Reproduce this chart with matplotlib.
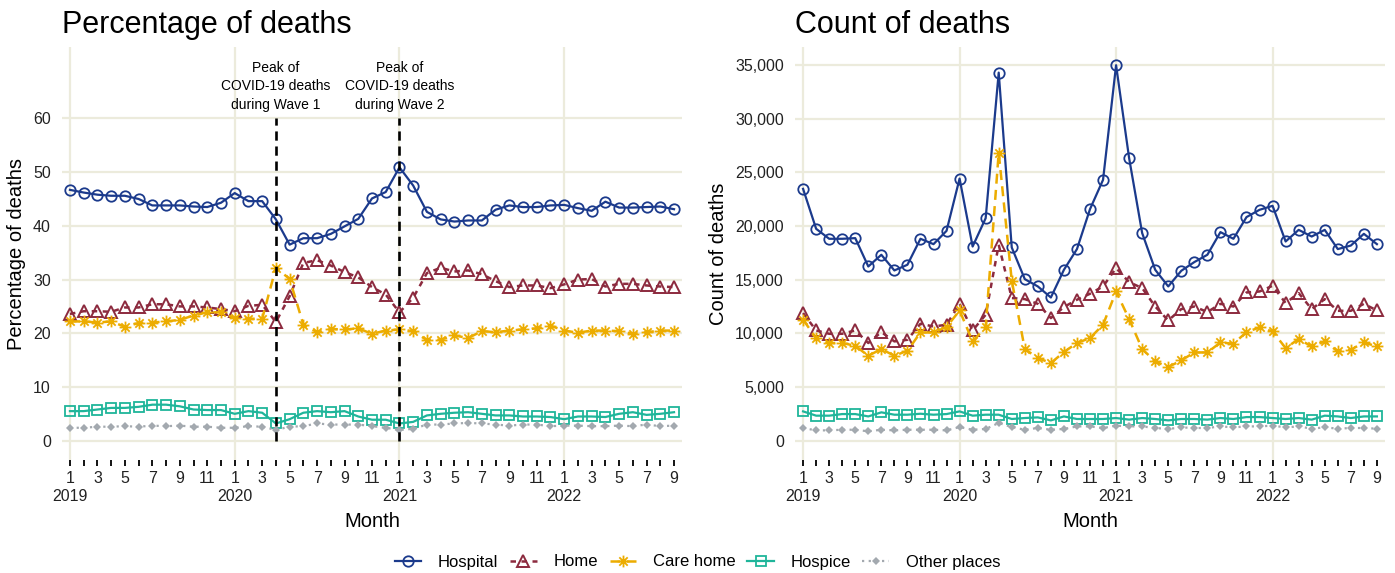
import matplotlib
matplotlib.use("Agg")
import matplotlib.pyplot as plt
import numpy as np
from matplotlib.path import Path
from matplotlib.ticker import FuncFormatter

plt.rcParams['font.family'] = ['Liberation Sans', 'DejaVu Sans']

# ---- data ----
years = [2019, 2020, 2021, 2022]
n_months = 45  # Jan 2019 .. Sep 2022
month_nums = [(i % 12) + 1 for i in range(n_months)]

series_names = ["Hospital", "Home", "Care home", "Hospice", "Other places"]

pct_hospital = [46.7, 46.2, 45.8, 45.6, 45.6, 45.0, 43.8, 43.8, 43.8, 43.6, 43.5, 44.3,
                46.1, 44.6, 44.6, 41.2, 36.5, 37.7, 37.7, 38.5, 39.9, 41.3, 45.1, 46.3,
                50.9, 47.5, 42.6, 41.2, 40.8, 41.0, 41.0, 43.0, 43.8, 43.5, 43.5, 43.8,
                43.9, 43.3, 42.8, 44.5, 43.4, 43.4, 43.5, 43.6, 43.1]
pct_home = [23.6, 24.1, 24.1, 24.0, 24.8, 24.8, 25.4, 25.4, 25.0, 25.0, 24.8, 24.5,
            24.1, 25.1, 25.3, 22.1, 26.9, 33.1, 33.6, 32.6, 31.4, 30.4, 28.6, 27.2,
            23.9, 26.6, 31.2, 32.2, 31.5, 31.7, 31.0, 29.7, 28.6, 28.9, 28.9, 28.4,
            29.1, 30.0, 30.1, 28.7, 29.2, 29.2, 28.9, 28.7, 28.6]
pct_care = [22.2, 22.2, 22.0, 22.2, 21.2, 21.9, 22.0, 22.2, 22.5, 23.3, 23.9, 23.9,
            22.8, 22.7, 22.7, 32.2, 30.1, 21.6, 20.2, 20.8, 20.7, 20.9, 19.9, 20.5,
            20.7, 20.4, 18.7, 18.8, 19.6, 19.1, 20.4, 20.2, 20.5, 20.7, 20.9, 21.4,
            20.5, 20.1, 20.5, 20.5, 20.4, 19.9, 20.2, 20.5, 20.5]
pct_hospice = [5.5, 5.5, 5.8, 6.1, 6.1, 6.3, 6.7, 6.7, 6.4, 5.8, 5.7, 5.7,
               5.0, 5.5, 5.2, 3.2, 4.0, 5.2, 5.5, 5.3, 5.5, 4.5, 3.9, 3.9,
               3.2, 3.5, 4.7, 5.0, 5.2, 5.3, 5.0, 4.7, 4.7, 4.5, 4.5, 4.4,
               4.0, 4.5, 4.5, 4.4, 5.0, 5.3, 4.8, 5.0, 5.3]
pct_other = [2.4, 2.4, 2.6, 2.6, 2.7, 2.6, 2.8, 2.7, 2.8, 2.6, 2.6, 2.4,
             2.4, 2.7, 2.6, 2.0, 2.6, 2.7, 3.2, 3.0, 3.0, 3.0, 2.7, 2.4,
             2.0, 2.2, 3.0, 3.0, 3.2, 3.3, 3.2, 3.0, 2.8, 3.0, 3.0, 2.7,
             2.8, 2.8, 2.7, 2.7, 2.8, 2.7, 3.0, 2.7, 2.8]

cnt_hospital = [23460, 19740, 18810, 18810, 18870, 16230, 17320, 15860, 16390, 18810, 18310, 19550,
                24420, 18090, 20730, 34290, 18000, 15050, 14370, 13340, 15920, 17850, 21570, 24300,
                34980, 26320, 19340, 15920, 14370, 15830, 16640, 17320, 19430, 18810, 20830, 21510,
                21880, 18560, 19640, 19020, 19640, 17850, 18180, 19270, 18310]
cnt_home = [11890, 10270, 9960, 9960, 10270, 9100, 10120, 9250, 9400, 10890, 10640, 10800,
            12750, 10270, 11730, 18250, 13290, 13190, 12750, 11420, 12450, 13130, 13690, 14370,
            16080, 14770, 14220, 12500, 11200, 12260, 12500, 11980, 12750, 12500, 13810, 13900,
            14430, 12820, 13750, 12260, 13190, 12100, 12100, 12750, 12130]
cnt_care = [11270, 9560, 9100, 9100, 8840, 7910, 8540, 7910, 8380, 10080, 10080, 10590,
            12130, 9250, 10590, 26840, 14920, 8540, 7700, 7230, 8260, 9100, 9560, 10800,
            13900, 11330, 8540, 7380, 6860, 7480, 8220, 8220, 9150, 9030, 10120, 10550,
            10180, 8630, 9470, 8780, 9250, 8310, 8470, 9150, 8780]
cnt_hospice = [2730, 2330, 2330, 2480, 2480, 2260, 2640, 2420, 2420, 2510, 2420, 2480,
               2730, 2330, 2420, 2420, 2020, 2110, 2170, 1890, 2260, 2020, 2020, 2020,
               2110, 1960, 2110, 2020, 1890, 2020, 2020, 1960, 2110, 2020, 2200, 2200,
               2110, 2020, 2110, 1960, 2330, 2260, 2110, 2260, 2260]
cnt_other = [1180, 960, 960, 1020, 1020, 870, 1020, 960, 1020, 1020, 1020, 960,
             1270, 1020, 1090, 1650, 1270, 1020, 1180, 1020, 1090, 1330, 1330, 1180,
             1400, 1330, 1330, 1180, 1090, 1240, 1180, 1180, 1330, 1240, 1330, 1330,
             1400, 1240, 1330, 1120, 1240, 1120, 1180, 1180, 1120]

peak_months = [15, 24]  # Apr 2020, Jan 2021
peak_labels = ["Peak of\nCOVID-19 deaths\nduring Wave 1", "Peak of\nCOVID-19 deaths\nduring Wave 2"]

# ---- styles ----
# asterisk marker (ggplot shape 8)
verts, codes = [], []
for ang in [0, 45, 90, 135]:
    a = np.deg2rad(ang)
    dx, dy = np.cos(a), np.sin(a)
    verts += [(-dx, -dy), (dx, dy)]
    codes += [Path.MOVETO, Path.LINETO]
asterisk = Path(verts, codes)

styles = {
    "Hospital": dict(color="#1b3a8c", ls="-", marker="o", ms=7.5, mfc="none", mew=1.3, lw=1.6),
    "Home": dict(color="#8c2a3e", ls=(0, (2.2, 2.2)), marker="^", ms=8, mfc="none", mew=1.4, lw=1.8),
    "Care home": dict(color="#ecac00", ls=(0, (4, 2.5)), marker=asterisk, ms=8.5, mfc="none", mew=1.3, lw=1.8),
    "Hospice": dict(color="#1fb59a", ls="-", marker="s", ms=7.5, mfc="none", mew=1.3, lw=1.6),
    "Other places": dict(color="#a3a9af", ls=(0, (1, 2)), marker="D", ms=4.5, mfc="#a3a9af", mew=0, lw=1.6),
}

grid_color = "#ecebdc"
x = np.arange(n_months)

fig = plt.figure(figsize=(13.95, 5.73), dpi=100)
ax1 = fig.add_axes([62 / 1395, 1 - 460 / 573, (682 - 62) / 1395, (460 - 47) / 573])
ax2 = fig.add_axes([795 / 1395, 1 - 460 / 573, (1385 - 795) / 1395, (460 - 47) / 573])

pct_data = [pct_hospital, pct_home, pct_care, pct_hospice, pct_other]
cnt_data = [cnt_hospital, cnt_home, cnt_care, cnt_hospice, cnt_other]

tick_labels = []
for i, m in enumerate(month_nums):
    if m == 1:
        tick_labels.append(f"1\n{years[i // 12]}")
    elif m % 2 == 1:
        tick_labels.append(str(m))
    else:
        tick_labels.append("")

handles = []
for ax, data in [(ax1, pct_data), (ax2, cnt_data)]:
    for name, vals in zip(series_names, data):
        st = styles[name]
        h, = ax.plot(x, vals, color=st["color"], linestyle=st["ls"], lw=st["lw"],
                     marker=st["marker"], markersize=st["ms"], markerfacecolor=st["mfc"],
                     markeredgecolor=st["color"], markeredgewidth=st["mew"], label=name,
                     zorder=3)
        if ax is ax1:
            handles.append(h)
    for s in ax.spines.values():
        s.set_visible(False)
    ax.set_xticks(x)
    ax.set_xticklabels(tick_labels, fontsize=11.5, color="#222222")
    ax.tick_params(axis="x", length=4, width=1.3, color="black", pad=4)
    ax.tick_params(axis="y", length=0, labelsize=11.5, labelcolor="#222222", pad=8)
    ax.set_axisbelow(True)
    ax.yaxis.grid(True, color=grid_color, lw=1.6)
    for k in range(4):
        ax.axvline(12 * k, color=grid_color, lw=1.6, zorder=0)
    ax.set_xlabel("Month", fontsize=14.5, labelpad=6)

ax1.set_xlim(-0.58, 44.58)
ax1.set_ylim(-3.6, 73.3)
ax1.set_yticks([0, 10, 20, 30, 40, 50, 60])
ax1.set_ylabel("Percentage of deaths", fontsize=14.5, labelpad=5)
ax1.set_title("Percentage of deaths", fontsize=22, loc="left", x=0.0, pad=10)

for pm, lab in zip(peak_months, peak_labels):
    ax1.plot([pm, pm], [0, 60], color="black", lw=1.9, linestyle=(0, (3.5, 2.2)), zorder=4)
    ax1.text(pm, 66.0, lab, ha="center", va="center", fontsize=10, linespacing=1.4)

ax2.set_xlim(-0.62, 44.62)
ax2.set_ylim(-1800, 36677)
ax2.set_yticks(list(range(0, 35001, 5000)))
ax2.yaxis.set_major_formatter(FuncFormatter(lambda v, p: f"{int(v):,}"))
ax2.set_ylabel("Count of deaths", fontsize=14.5, labelpad=5)
ax2.set_title("Count of deaths", fontsize=22, loc="left", x=0.0, pad=10)

fig.legend(handles=handles, labels=series_names, loc="center", ncol=5,
           bbox_to_anchor=(0.5, 1 - 562 / 573), frameon=False, fontsize=12,
           handlelength=1.6, columnspacing=0.7, handletextpad=1.0)

fig.savefig("out.png", dpi=100)
